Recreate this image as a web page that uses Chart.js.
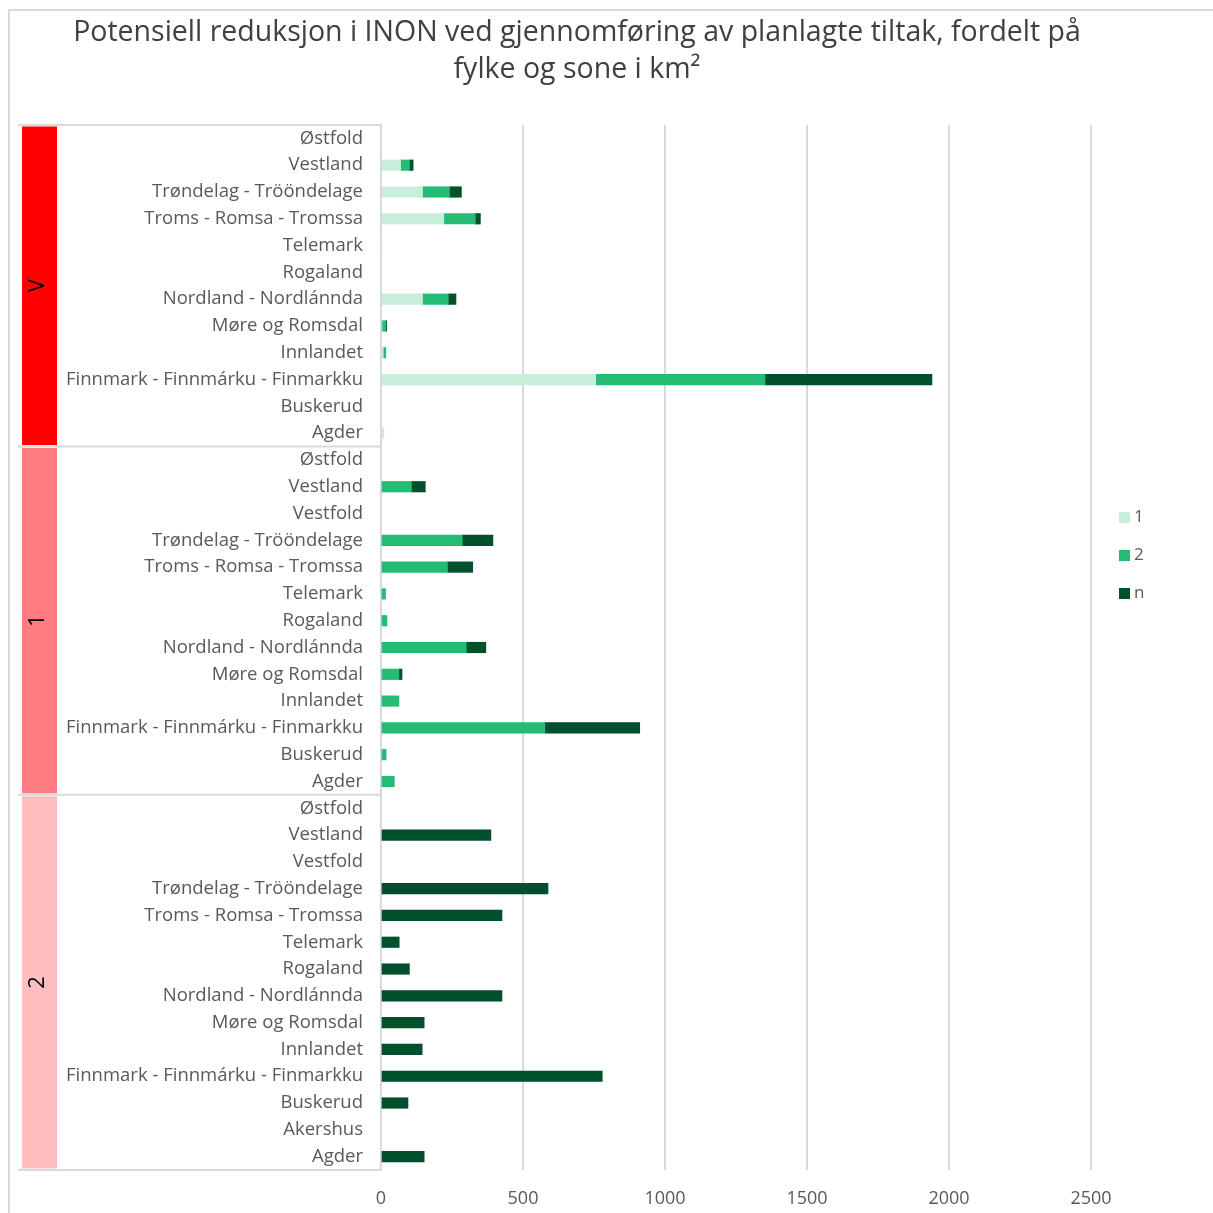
<!DOCTYPE html>
<html>
<head>
<meta charset="utf-8">
<script src="https://cdn.jsdelivr.net/npm/chart.js@4"></script>
<style>
html,body{margin:0;padding:0;background:#fff;}
#wrap{width:1213px;height:1213px;position:relative;}
</style>
</head>
<body>
<div id="wrap"><canvas id="c" width="1213" height="1213"></canvas></div>
<script>
// ---- DATA ----
const groupNames = ["V", "1", "2"];
const groupColors = ["#FF0000", "#FF7C80", "#FFBDBD"];
const catsV = ["Østfold","Vestland","Trøndelag - Trööndelage","Troms - Romsa - Tromssa","Telemark","Rogaland","Nordland - Nordlánnda","Møre og Romsdal","Innlandet","Finnmark - Finnmárku - Finmarkku","Buskerud","Agder"];
const cats1 = ["Østfold","Vestland","Vestfold","Trøndelag - Trööndelage","Troms - Romsa - Tromssa","Telemark","Rogaland","Nordland - Nordlánnda","Møre og Romsdal","Innlandet","Finnmark - Finnmárku - Finmarkku","Buskerud","Agder"];
const cats2 = ["Østfold","Vestland","Vestfold","Trøndelag - Trööndelage","Troms - Romsa - Tromssa","Telemark","Rogaland","Nordland - Nordlánnda","Møre og Romsdal","Innlandet","Finnmark - Finnmárku - Finmarkku","Buskerud","Akershus","Agder"];

const seriesNames = ["1", "2", "n"];
const s1_V = [0, 69, 146, 221, 3, 0, 146, 3, 8, 756, 0, 10];
const s2_V = [0, 31, 95, 111, 0, 0, 91, 14, 9, 596, 0, 0];
const sn_V = [0, 13, 42, 18, 0, 0, 27, 3, 0, 588, 0, 0];
const s1_1 = [0, 0, 0, 0, 0, 0, 0, 0, 0, 0, 0, 0, 0];
const s2_1 = [0, 107, 0, 286, 234, 16, 21, 300, 63, 63, 577, 18, 47];
const sn_1 = [0, 49, 0, 108, 89, 0, 0, 69, 11, 0, 334, 0, 0];
const s1_2 = [0, 0, 0, 0, 0, 0, 0, 0, 0, 0, 0, 0, 0, 0];
const s2_2 = [0, 0, 0, 0, 0, 0, 0, 0, 0, 0, 0, 0, 0, 0];
const sn_2 = [0, 387, 0, 588, 426, 64, 100, 426, 152, 145, 779, 95, 0, 152];
const xTicks = [0, 500, 1000, 1500, 2000, 2500];

const titleLines = ["Potensiell reduksjon i INON ved gjennomføring av planlagte tiltak, fordelt på", "fylke og sone i km²"];

// ---- BUILD ----
const labels = catsV.concat(cats1, cats2);
const groupSizes = [catsV.length, cats1.length, cats2.length];
const seriesColors = ["#C8EEDB", "#24BC75", "#004F2D"];
const seriesData = [
  s1_V.concat(s1_1, s1_2),
  s2_V.concat(s2_1, s2_2),
  sn_V.concat(sn_1, sn_2)
].map(arr => arr.map(v => v === 0 ? null : v));
const FONT = "'Open Sans', 'Noto Sans', sans-serif";
const GRAY = "#595959";
const LINE = "#D9D9D9";

const decor = {
  id: 'decor',
  beforeDraw(chart) {
    const ctx = chart.ctx;
    ctx.save();
    ctx.fillStyle = '#fff';
    ctx.fillRect(0, 0, chart.width, chart.height);
    // outer frame
    ctx.strokeStyle = LINE;
    ctx.lineWidth = 2;
    ctx.beginPath();
    ctx.moveTo(9, 1213); ctx.lineTo(9, 10); ctx.lineTo(1213, 10);
    ctx.stroke();
    // title
    ctx.fillStyle = "#404040";
    ctx.font = "28.5px " + FONT;
    ctx.textAlign = 'center';
    ctx.textBaseline = 'middle';
    ctx.fillText(titleLines[0], 577, 33);
    ctx.fillText(titleLines[1], 577, 70);
    ctx.restore();
  },
  afterDraw(chart) {
    const ctx = chart.ctx;
    const y = chart.scales.y;
    const area = chart.chartArea;
    const rowH = (area.bottom - area.top) / labels.length;
    ctx.save();
    let start = 0;
    const bounds = [area.top];
    for (let g = 0; g < groupSizes.length; g++) {
      const top = y.getPixelForValue(start) - rowH / 2;
      const bot = y.getPixelForValue(start + groupSizes[g] - 1) + rowH / 2;
      bounds.push(bot);
      ctx.fillStyle = groupColors[g];
      ctx.fillRect(22, top + 1.5, 35, bot - top - 3);
      ctx.save();
      ctx.translate(38, (top + bot) / 2);
      ctx.rotate(-Math.PI / 2);
      ctx.fillStyle = '#000';
      ctx.font = "22px " + FONT;
      ctx.textAlign = 'center';
      ctx.textBaseline = 'middle';
      ctx.fillText(groupNames[g], 0, 0);
      ctx.restore();
      start += groupSizes[g];
    }
    ctx.strokeStyle = LINE;
    ctx.lineWidth = 2;
    bounds.forEach(b => {
      ctx.beginPath();
      ctx.moveTo(18, b); ctx.lineTo(area.left, b);
      ctx.stroke();
    });
    // legend
    const ly = [517, 555, 593];
    ctx.font = "17px " + FONT;
    ctx.textAlign = 'left';
    ctx.textBaseline = 'middle';
    for (let i = 0; i < seriesNames.length; i++) {
      ctx.fillStyle = seriesColors[i];
      ctx.fillRect(1119, ly[i] - 5, 11, 11);
      ctx.fillStyle = GRAY;
      ctx.fillText(seriesNames[i], 1134, ly[i]);
    }
    ctx.restore();
  }
};

new Chart(document.getElementById('c'), {
  type: 'bar',
  data: {
    labels: labels,
    datasets: seriesNames.map((n, i) => ({
      label: n,
      data: seriesData[i],
      backgroundColor: seriesColors[i],
      borderWidth: 0,
      barThickness: 10.5
    }))
  },
  options: {
    indexAxis: 'y',
    responsive: false,
    animation: false,
    maintainAspectRatio: false,
    layout: { padding: { left: 0, right: 122, top: 125, bottom: 0 } },
    plugins: {
      legend: { display: false },
      title: { display: false },
      tooltip: { enabled: false }
    },
    scales: {
      x: {
        stacked: true,
        min: 0, max: 2500,
        afterBuildTicks(scale) { scale.ticks = xTicks.map(v => ({ value: v })); },
        afterFit(scale) { scale.height = 43; },
        grid: { color: LINE, lineWidth: 2, drawTicks: false },
        border: { display: false },
        ticks: { color: GRAY, font: { family: FONT, size: 18 }, padding: 18, callback: v => String(v) }
      },
      y: {
        stacked: true,
        afterFit(scale) { scale.width = 381; },
        grid: { display: false, drawTicks: false },
        border: { display: true, color: LINE, width: 2 },
        ticks: { color: GRAY, font: { family: FONT, size: 18.5 }, padding: 18, autoSkip: false }
      }
    }
  },
  plugins: [decor]
});
</script>
</body>
</html>
